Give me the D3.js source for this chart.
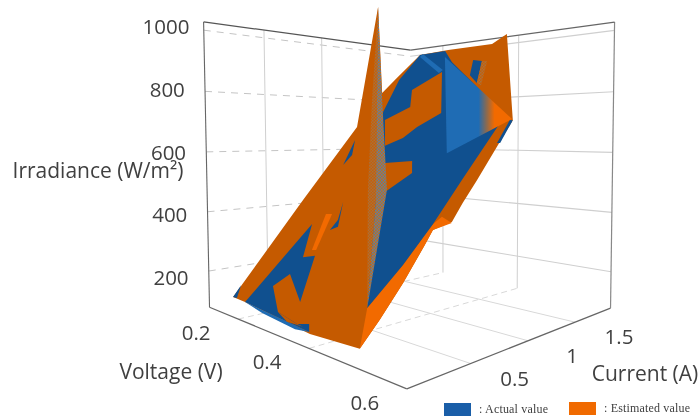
<!DOCTYPE html>
<html>
<head>
<meta charset="utf-8">
<style>
  body { margin: 0; background: #fff; }
  svg { display: block; font-family: "Open Sans"; fill: #404040; filter: blur(0.45px); }
</style>
<script src="https://cdn.jsdelivr.net/npm/d3@7/dist/d3.min.js"></script>
</head>
<body>
<svg id="chart" width="700" height="419"></svg>
<script>
const voltageTicks = [0.2, 0.4, 0.6];
const currentTicks = [0.5, 1, 1.5];
const irradianceTicks = [200, 400, 600, 800, 1000];

// surface facets, each point is [voltage, current, irradiance]
const spikePeak = [0.327, 0.81, 1068];
const estimatedBase = [[0.167,0.086,132],[0.146,0.691,423],[0.131,1.244,688],spikePeak,[0.123,1.537,829],[0.132,1.67,893],[0.148,1.882,994],[0.228,1.897,1001],[0.345,1.9,1003],[0.366,1.978,1040],[0.517,1.276,703],[0.522,0.907,526],[0.523,0.778,465],[0.525,0.677,416],[0.5,0.625,391],[0.503,0.548,354],[0.508,0.363,265],[0.509,0.195,185],[0.507,0.068,124],[0.401,0.054,117],[0.208,0.083,131]];
const estimatedBand = [[0.507,0.068,124],[0.474,0.225,199],[0.487,0.44,302],[0.493,0.654,405],[0.501,0.695,425],[0.526,0.672,413],[0.5,0.625,391],[0.503,0.548,354],[0.508,0.363,265],[0.509,0.195,185]];
const actualBody = [[0.474,0.225,199],[0.176,1.365,746],[0.145,1.649,882],[0.148,1.882,994],[0.221,1.89,998],[0.268,1.772,942],[0.447,1.407,767],[0.495,1.277,704],[0.493,0.902,524],[0.493,0.654,405],[0.487,0.44,302]];
const estimatedPatchUpper = [[0.201,1.297,714],[0.246,1.398,762],[0.212,1.545,832],[0.261,1.687,901],[0.343,1.34,734],[0.307,1.238,685],[0.291,1.157,646],[0.259,1.097,618]];
const estimatedPatchLower = [[0.293,0.979,561],[0.357,1,571],[0.377,0.924,534],[0.346,0.796,473]];
const actualPatchTop = [[0.325,1.769,940],[0.351,1.751,931],[0.379,1.564,842],[0.346,1.636,876]];
const actualPatchLeft = [[0.182,0.95,547],[0.158,1.139,638],[0.185,1.025,583]];
const actualRidge = [[0.155,1.888,997],[0.259,1.705,909],[0.254,1.68,898],[0.153,1.861,984]];
const actualLeftArea = [[0.208,0.083,131],[0.224,0.556,358],[0.265,0.372,269],[0.292,0.391,279],[0.335,0.165,170],[0.265,0.274,223],[0.246,0.196,185],[0.303,0.092,135],[0.362,0.073,126],[0.386,0.09,134],[0.397,0.06,120]];
const actualEdgeStrip = [[0.208,0.083,131],[0.397,0.06,120],[0.365,0.051,115],[0.269,0.064,122]];
const estimatedEdgeNotch = [[0.303,0.092,135],[0.362,0.073,126],[0.378,0.07,125],[0.338,0.066,123]];
const actualCorner = [[0.167,0.086,132],[0.163,0.153,164],[0.179,0.088,133]];
const actualSliver = [[0.261,0.71,432],[0.282,0.602,380],[0.281,0.54,350],[0.295,0.564,362]];
const estimatedSliver = [[0.24,0.626,391],[0.256,0.631,394],[0.284,0.422,293],[0.274,0.417,291]];
const actualRim = [[0.517,1.276,703],[0.521,1.129,633],[0.515,1.128,633],[0.511,1.276,704]];
const blendTop = [[0.351,1.751,931],[0.365,1.746,929],[0.393,1.545,832],[0.379,1.564,842]];
const actualFacet = [[0.235,1.829,969],[0.514,1.283,707],[0.424,1.059,599]];
const spikeLeft = [spikePeak,[0.125,1.474,799],[0.338,0.744,448],[0.474,0.225,199],[0.301,0.798,474],[0.108,1.477,800]];
const spikeRight = [spikePeak,[0.142,1.472,797],[0.347,0.809,479],[0.474,0.225,199],[0.338,0.744,448],[0.125,1.474,799]];

const darkOrange = "#c55a00", brightOrange = "#f26a00", darkBlue = "#10508f", brightBlue = "#1f6cb4";

const x = d3.scaleLinear().domain([0.1, 0.6]).range([0, 1]);
const y = d3.scaleLinear().domain([0.05, 1.95]).range([0, 1]);
const z = d3.scaleLinear().domain([77, 1027]).range([0, 1]);

// perspective camera fitted to where the box corners fall on the page
const boxCorners = [[0,0,0,209,307],[1,0,0,407,389],[1,1,0,610,308],[0,1,0,412,266],[0,0,1,204,22],[1,1,1,615,22],[0,1,1,410,50]];

function solve(A, b) {
  const n = b.length;
  const M = A.map((r, i) => [...r, b[i]]);
  for (let c = 0; c < n; c++) {
    let p = c;
    for (let r = c + 1; r < n; r++) if (Math.abs(M[r][c]) > Math.abs(M[p][c])) p = r;
    [M[c], M[p]] = [M[p], M[c]];
    for (let r = 0; r < n; r++) {
      if (r === c) continue;
      const f = M[r][c] / M[c][c];
      for (let k = c; k <= n; k++) M[r][k] -= f * M[c][k];
    }
  }
  return M.map((r, i) => r[n] / r[i]);
}

const rows = [], rhs = [];
boxCorners.forEach(([u, t, h, px, py]) => {
  rows.push([u, t, h, 1, 0, 0, 0, 0, -px * u, -px * t, -px * h]); rhs.push(px);
  rows.push([0, 0, 0, 0, u, t, h, 1, -py * u, -py * t, -py * h]); rhs.push(py);
});
const cam = solve(
  d3.range(11).map(i => d3.range(11).map(j => d3.sum(rows, r => r[i] * r[j]))),
  d3.range(11).map(i => d3.sum(rows, (r, k) => r[i] * rhs[k]))
);

const cube = (u, t, h) => {
  const w = cam[8] * u + cam[9] * t + cam[10] * h + 1;
  return [(cam[0] * u + cam[1] * t + cam[2] * h + cam[3]) / w, (cam[4] * u + cam[5] * t + cam[6] * h + cam[7]) / w];
};
const project = ([v, i, g]) => cube(x(v), y(i), z(g));
const facetPath = d3.line().curve(d3.curveLinearClosed).x(d => project(d)[0]).y(d => project(d)[1]);

const svg = d3.select("#chart");
const defs = svg.append("defs");

// walls and floor
const edge = (a, b, colour, width, dash) => {
  const p = cube(...a), q = cube(...b);
  svg.append("line").attr("x1", p[0]).attr("y1", p[1]).attr("x2", q[0]).attr("y2", q[1])
    .attr("stroke", colour).attr("stroke-width", width).attr("stroke-dasharray", dash || null);
};
irradianceTicks.forEach(g => {
  edge([0, 0, z(g)], [0, 1, z(g)], "#c4c4c4", 1, "7 6");
  edge([0, 1, z(g)], [1, 1, z(g)], "#cfcfcf", 1.1);
});
currentTicks.forEach(i => {
  edge([0, y(i), 0], [0, y(i), 1], "#cfcfcf", 1);
  edge([0, y(i), 0], [1, y(i), 0], "#d8d8d8", 1);
});
voltageTicks.slice(0, 2).forEach(v => {
  edge([x(v), 1, 0], [x(v), 1, 1], "#cfcfcf", 1);
  edge([x(v), 0, 0], [x(v), 1, 0], "#d8d8d8", 1, "6 4");
});
edge([0, 0, 0], [1, 0, 0], "#666", 1.2);
edge([1, 0, 0], [1, 1, 0], "#666", 1.2);
edge([0, 0, 0], [0, 0, 1], "#666", 1.1);
edge([1, 1, 0], [1, 1, 1], "#888", 1.2);
edge([0, 0, 1], [0, 1, 1], "#555", 1.2);
edge([0, 1, 1], [1, 1, 1], "#666", 1.2);

// the fine weave where the two surfaces fight for depth
const weave = (id, a, b) => {
  const p = defs.append("pattern").attr("id", id).attr("patternUnits", "userSpaceOnUse").attr("width", 3).attr("height", 3);
  p.append("rect").attr("width", 3).attr("height", 3).attr("fill", a);
  p.append("rect").attr("width", 1.5).attr("height", 1.5).attr("fill", b);
  p.append("rect").attr("x", 1.5).attr("y", 1.5).attr("width", 1.5).attr("height", 1.5).attr("fill", b);
};
weave("weaveWarm", "#c65f08", "#a8703c");
weave("weaveCool", "#d0690c", "#4f82b0");

const facetGrad = defs.append("linearGradient").attr("id", "facetGrad").attr("x1", 0).attr("x2", 1).attr("y1", 0).attr("y2", 0);
[[0, brightBlue], [0.5, brightBlue], [0.62, "#8a6a50"], [0.74, brightOrange], [1, brightOrange]]
  .forEach(s => facetGrad.append("stop").attr("offset", s[0]).attr("stop-color", s[1]));

const facets = [
  [estimatedBase, darkOrange], [estimatedBand, brightOrange], [actualBody, darkBlue],
  [estimatedPatchUpper, darkOrange], [estimatedPatchLower, darkOrange],
  [actualPatchTop, darkBlue], [blendTop, "url(#weaveWarm)"], [actualPatchLeft, darkBlue], [actualRidge, brightBlue],
  [actualLeftArea, darkBlue], [actualEdgeStrip, brightBlue], [estimatedEdgeNotch, darkOrange],
  [actualCorner, darkBlue], [actualSliver, darkBlue], [estimatedSliver, brightOrange], [actualRim, darkBlue],
  [actualFacet, "url(#facetGrad)"], [spikeLeft, "url(#weaveWarm)"], [spikeRight, "url(#weaveCool)"]
];
svg.append("g").selectAll("path").data(facets).join("path")
  .attr("d", d => facetPath(d[0]))
  .attr("fill", d => d[1]);

// text
const label = (s, px, py, size, anchor, family) => svg.append("text")
  .attr("x", px).attr("y", py)
  .attr("text-anchor", anchor || "middle").attr("dominant-baseline", "central")
  .attr("font-size", size).attr("font-family", family || null).text(s);

const labelX = d3.scaleLinear().domain([200, 1000]).range([171, 166]);
const labelY = d3.scaleLinear().domain([200, 1000]).range([277, 26]);
irradianceTicks.forEach(g => label(g, labelX(g), labelY(g), 20.5));
voltageTicks.forEach(v => {
  const p = cube(x(v), 0, 0);
  label(v, p[0] - 42, p[1] + 13, 20.5);
});
currentTicks.forEach(i => {
  const p = cube(1, y(i), 0);
  label(i, p[0] + 44, p[1] + 14, 20.5);
});
label("Irradiance (W/m²)", 98, 170, 21);
label("Voltage (V)", 171, 371, 21);
label("Current (A)", 645, 373, 21);

// legend
svg.append("rect").attr("x", 444).attr("y", 403).attr("width", 27).attr("height", 13).attr("fill", "#1a5ea8");
svg.append("rect").attr("x", 569).attr("y", 402).attr("width", 27).attr("height", 13).attr("fill", "#f06a00");
label(": Actual value", 479, 409, 12, "start", "Liberation Serif").attr("textLength", 69);
label(": Estimated value", 604, 408, 12, "start", "Liberation Serif").attr("textLength", 86);
</script>
</body>
</html>
